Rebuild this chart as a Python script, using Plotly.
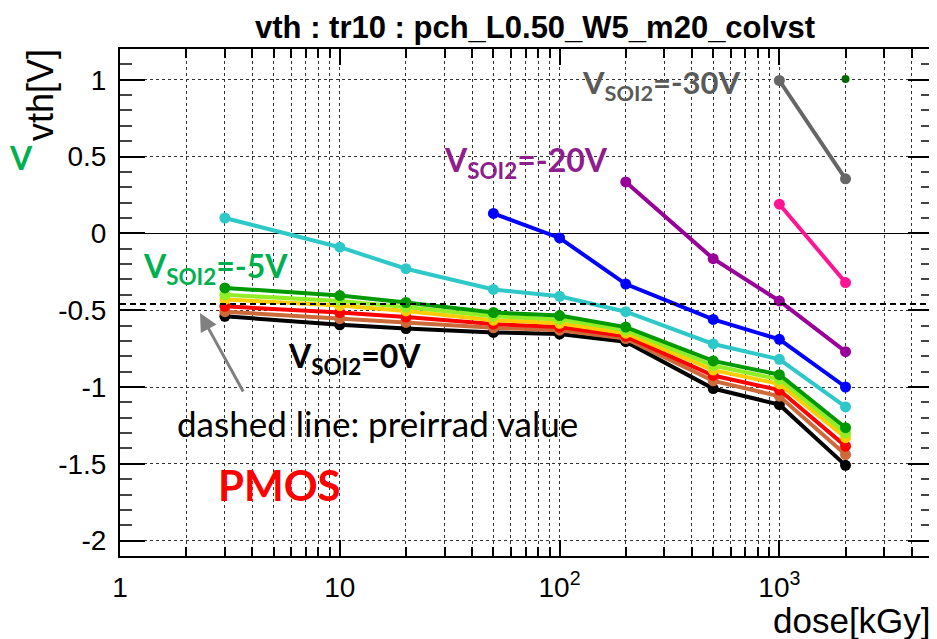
import plotly.graph_objects as go

# ---------------- data ----------------
dose = [3, 10, 20, 50, 100, 200, 500, 1000, 2000]
v_0v = [-0.54, -0.595, -0.62, -0.645, -0.655, -0.705, -1.01, -1.115, -1.51]
v_brown = [-0.51, -0.555, -0.58, -0.615, -0.63, -0.685, -0.96, -1.06, -1.44]
v_red = [-0.475, -0.515, -0.545, -0.59, -0.61, -0.67, -0.925, -1.02, -1.385]
v_yellow = [-0.43, -0.47, -0.505, -0.565, -0.585, -0.65, -0.89, -0.98, -1.33]
v_lgreen = [-0.40, -0.44, -0.48, -0.54, -0.56, -0.63, -0.86, -0.95, -1.30]
v_m5v = [-0.355, -0.405, -0.45, -0.515, -0.535, -0.61, -0.83, -0.92, -1.265]
v_cyan = [0.10, -0.09, -0.23, -0.365, -0.41, -0.51, -0.72, -0.82, -1.13]
dose_blue = [50, 100, 200, 500, 1000, 2000]
v_blue = [0.13, -0.03, -0.33, -0.56, -0.69, -1.00]
dose_purple = [200, 500, 1000, 2000]
v_purple = [0.335, -0.165, -0.44, -0.77]
dose_pink = [1000, 2000]
v_pink = [0.19, -0.32]
dose_gray = [1000, 2000]
v_gray = [0.995, 0.355]
dose_dgreen = [2000]
v_dgreen = [1.005]
preirrad_value = -0.46

x_tickvals = [1, 10, 100, 1000]
x_ticktext = ["1", "10", "10<sup>2</sup>", "10<sup>3</sup>"]
y_tickvals = [-2, -1.5, -1, -0.5, 0, 0.5, 1]
y_ticktext = ["-2", "-1.5", "-1", "-0.5", "0", "0.5", "1"]

# ---------------- layout helpers ----------------
# the page body has an 8px margin, so the figure is offset by OFF px
OFF = 8
PAGE_W, PAGE_H = 937, 639
W, H = PAGE_W - OFF, PAGE_H - OFF
# plot-area edges in page pixels
X0, X1, Y0, Y1 = 120, 933, 49, 556
L, R, T, B = X0 - OFF, W - (X1 - OFF), Y0 - OFF, H - (Y1 - OFF)
PW, PH = X1 - X0, Y1 - Y0


def px(x):
    return (x - X0) / PW


def py(y):
    return (Y1 - y) / PH


fig = go.Figure()

series = [
    (dose, v_0v, "#000000"),
    (dose, v_brown, "#cc6a3a"),
    (dose, v_red, "#ff0000"),
    (dose, v_yellow, "#ffcc00"),
    (dose, v_lgreen, "#8fee26"),
    (dose, v_m5v, "#009900"),
    (dose, v_cyan, "#2ec8c8"),
    (dose_blue, v_blue, "#0000ff"),
    (dose_purple, v_purple, "#990099"),
    (dose_pink, v_pink, "#ff1493"),
    (dose_gray, v_gray, "#666666"),
]
for xs, ys, col in series:
    fig.add_trace(go.Scatter(
        x=xs, y=ys, mode="lines+markers",
        line=dict(color=col, width=4),
        marker=dict(color=col, size=11),
        showlegend=False, hoverinfo="skip"))

fig.add_trace(go.Scatter(
    x=dose_dgreen, y=v_dgreen, mode="markers",
    marker=dict(color="#006600", size=8),
    showlegend=False, hoverinfo="skip"))

# preirrad dashed line
fig.add_shape(type="line", xref="paper", x0=0, x1=1, yref="y",
              y0=preirrad_value, y1=preirrad_value,
              line=dict(color="black", width=2, dash="6px,4px"))

minor_x = [m * 10 ** d for d in range(0, 4) for m in range(2, 10) if m * 10 ** d <= 5000]

grid_col = "#333333"
fig.update_xaxes(
    type="log", range=[0, 3.699], automargin=False,
    tickmode="array", tickvals=x_tickvals, ticktext=x_ticktext,
    ticks="inside", ticklen=16, tickwidth=1.5, tickcolor="black",
    showline=True, linecolor="black", linewidth=2, mirror="ticks",
    showgrid=True, gridcolor=grid_col, griddash="dot", gridwidth=1,
    minor=dict(tickmode="array", tickvals=minor_x, ticks="inside", ticklen=9,
               tickwidth=1.5, tickcolor="black",
               showgrid=True, gridcolor=grid_col, griddash="dot", gridwidth=1),
    tickfont=dict(family="Liberation Sans", size=28, color="black"),
    ticklabelstandoff=5,
)
fig.update_yaxes(
    range=[-2.1, 1.2], automargin=False,
    tickmode="array", tickvals=y_tickvals, ticktext=y_ticktext,
    ticks="inside", ticklen=25, tickwidth=1.5, tickcolor="black",
    showline=True, linecolor="black", linewidth=2, mirror="ticks",
    showgrid=True, gridcolor=grid_col, griddash="dot", gridwidth=1,
    zeroline=True, zerolinecolor="black", zerolinewidth=1,
    minor=dict(dtick=0.1, ticks="inside", ticklen=12, tickwidth=1.5,
               tickcolor="#444444", showgrid=False),
    tickfont=dict(family="Liberation Sans", size=28, color="black"),
    ticklabelstandoff=6,
)

ann_font = "Lato"
annotations = [
    # axis titles
    dict(text="dose[kGy]", x=1.0, y=py(620), xanchor="right", yanchor="middle",
         font=dict(family="Liberation Sans", size=35, color="black")),
    dict(text="vth[V]", x=px(40), y=py(47), xanchor="center", yanchor="top",
         textangle=-90, font=dict(family="Liberation Sans", size=36, color="black")),
    # labels
    dict(text="<b>V<sub>SOI2</sub>=-30V</b>", x=px(580), y=py(84), xanchor="left",
         yanchor="middle", font=dict(family=ann_font, size=31, color="#5a5a5a")),
    dict(text="<b>V<sub>SOI2</sub>=-20V</b>", x=px(442), y=py(162), xanchor="left",
         yanchor="middle", font=dict(family=ann_font, size=32, color="#8e1e8e")),
    dict(text="<b>V<sub>SOI2</sub>=-5V</b>", x=px(141), y=py(268), xanchor="left",
         yanchor="middle", font=dict(family=ann_font, size=32, color="#00b050")),
    dict(text="<b>V<sub>SOI2</sub>=0V</b>", x=px(286), y=py(358), xanchor="left",
         yanchor="middle", font=dict(family=ann_font, size=32, color="black")),
    dict(text="dashed line: preirrad value", x=px(175), y=py(423), xanchor="left",
         yanchor="middle", font=dict(family=ann_font, size=35, color="black")),
    dict(text="<b>PMOS</b>", x=px(216), y=py(485), xanchor="left",
         yanchor="middle", font=dict(family=ann_font, size=42, color="#ff0000")),
    dict(text="<b>V</b>", x=px(7), y=py(157), xanchor="left",
         yanchor="middle", font=dict(family=ann_font, size=32, color="#00b050")),
    # arrow
    dict(text="", x=px(200), y=py(313), ax=44, ay=80,
         axref="pixel", ayref="pixel", showarrow=True, arrowhead=2,
         arrowsize=1.2, arrowwidth=3, arrowcolor="#808080"),
]
for a in annotations:
    a.setdefault("xref", "paper")
    a.setdefault("yref", "paper")
    a.setdefault("showarrow", False)

fig.update_layout(
    width=W, height=H,
    margin=dict(l=L, r=R, t=T, b=B, autoexpand=False),
    paper_bgcolor="white", plot_bgcolor="white",
    title=dict(text="<b>vth : tr10 : pch_L0.50_W5_m20_colvst</b>",
               x=(535 - OFF) / W, xanchor="center", xref="container",
               y=1 - (27 - OFF) / H, yanchor="middle", yref="container",
               font=dict(family="Liberation Sans", size=31, color="black")),
    annotations=annotations,
)

fig.write_html("out.html")
